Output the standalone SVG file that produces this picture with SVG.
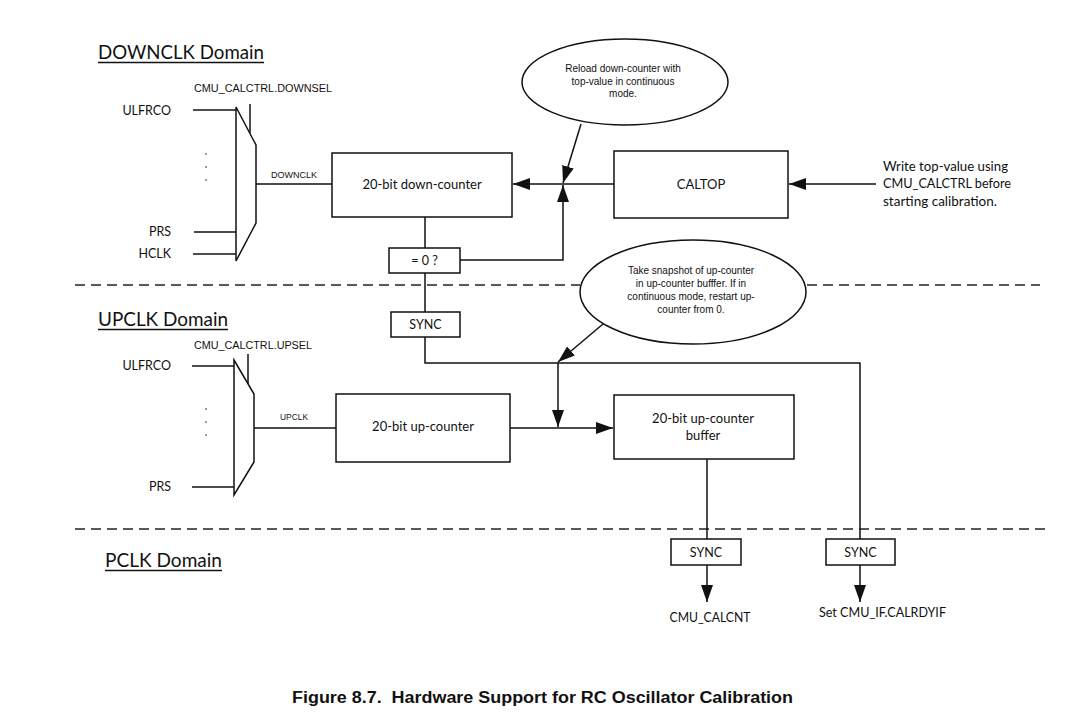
<svg xmlns="http://www.w3.org/2000/svg" width="1080" height="727" viewBox="0 0 1080 727">
<defs>
<style>
.ln{fill:none;stroke:#111;stroke-width:1.5}
.bx{fill:#fff;stroke:#111;stroke-width:1.5}
.dash{fill:none;stroke:#222;stroke-width:1.6;stroke-dasharray:10 6}
.c{font-family:Lato,"Open Sans","Noto Sans",sans-serif;fill:#111}
.a{font-family:"Liberation Sans",Arial,sans-serif;fill:#111}
.h{font-family:Lato,"Open Sans",sans-serif;font-size:19px;fill:#111}
.dot{fill:#5a6f8a}
.pre{white-space:pre}
</style>
<marker id="arr" markerUnits="userSpaceOnUse" markerWidth="18" markerHeight="12" refX="17" refY="6" orient="auto">
<path d="M0,0 L17,6 L0,12 z" fill="#111"/>
</marker>
</defs>
<rect width="1080" height="727" fill="#fff"/>

<g id="domain-lines">
<line class="dash" x1="75" y1="285" x2="580" y2="285"/>
<line class="dash" x1="807" y1="285" x2="1040" y2="285"/>
<line class="dash" x1="75" y1="529" x2="1045" y2="529"/>
</g>

<g id="headings">
<text class="h" x="98" y="59" textLength="166" lengthAdjust="spacingAndGlyphs">DOWNCLK Domain</text>
<line class="ln" x1="98" y1="62.5" x2="264" y2="62.5"/>
<text class="h" x="98" y="326" textLength="130" lengthAdjust="spacingAndGlyphs">UPCLK Domain</text>
<line class="ln" x1="98" y1="329.5" x2="228" y2="329.5"/>
<text class="h" x="105" y="567" textLength="117" lengthAdjust="spacingAndGlyphs">PCLK Domain</text>
<line class="ln" x1="105" y1="570.5" x2="222" y2="570.5"/>
</g>

<g id="connectors">
<line class="ln" x1="193" y1="110" x2="236" y2="110"/>
<line class="ln" x1="194" y1="232" x2="236" y2="232"/>
<line class="ln" x1="193" y1="254" x2="236" y2="254"/>
<line class="ln" x1="250" y1="104" x2="250" y2="133"/>
<line class="ln" x1="256" y1="184" x2="332" y2="184"/>
<line class="ln" x1="425" y1="217" x2="425" y2="248"/>
<polyline class="ln" points="460,260 563,260 563,185" marker-end="url(#arr)"/>
<line class="ln" x1="614" y1="184" x2="513" y2="184" marker-end="url(#arr)"/>
<line class="ln" x1="876" y1="184" x2="789" y2="184" marker-end="url(#arr)"/>
<line class="ln" x1="581" y1="124" x2="563" y2="183" marker-end="url(#arr)"/>
<line class="ln" x1="425" y1="273" x2="425" y2="312"/>
<polyline class="ln" points="425,337 425,363 860,363 860,539"/>
<line class="ln" x1="603" y1="324" x2="558" y2="362" marker-end="url(#arr)"/>
<line class="ln" x1="558" y1="363" x2="558" y2="427" marker-end="url(#arr)"/>
<line class="ln" x1="192" y1="366" x2="234" y2="366"/>
<line class="ln" x1="192" y1="487" x2="234" y2="487"/>
<line class="ln" x1="248" y1="354" x2="248" y2="384"/>
<line class="ln" x1="254" y1="428" x2="336" y2="428"/>
<line class="ln" x1="510" y1="428" x2="613" y2="428" marker-end="url(#arr)"/>
<line class="ln" x1="707" y1="459" x2="707" y2="539"/>
<line class="ln" x1="707" y1="565" x2="707" y2="602" marker-end="url(#arr)"/>
<line class="ln" x1="860" y1="565" x2="860" y2="602" marker-end="url(#arr)"/>
</g>

<g id="downsel-mux">
<polygon class="bx" points="236,107 256,145 256,223 236,261"/>
<text class="a" x="194" y="92" font-size="10" textLength="138" lengthAdjust="spacingAndGlyphs">CMU_CALCTRL.DOWNSEL</text>
<text class="c" x="171" y="115" font-size="12.5" text-anchor="end">ULFRCO</text>
<circle class="dot" cx="206" cy="154" r="0.9"/>
<circle class="dot" cx="206" cy="167" r="0.9"/>
<circle class="dot" cx="206" cy="180" r="0.9"/>
<text class="c" x="171" y="236" font-size="12.5" text-anchor="end">PRS</text>
<text class="c" x="171" y="258" font-size="12.5" text-anchor="end">HCLK</text>
<text class="a" x="271" y="178" font-size="8.5" textLength="46" lengthAdjust="spacingAndGlyphs">DOWNCLK</text>
</g>

<g id="down-counter">
<rect class="bx" x="332" y="153" width="180" height="64"/>
<text class="c" x="422" y="189" font-size="13" text-anchor="middle">20-bit down-counter</text>
</g>

<g id="zero-check">
<rect class="bx" x="389" y="248" width="71" height="25"/>
<text class="c" x="424.5" y="265" font-size="12.5" text-anchor="middle">= 0 ?</text>
</g>

<g id="caltop">
<rect class="bx" x="614" y="151" width="174" height="67"/>
<text class="c" x="701" y="189" font-size="13" text-anchor="middle">CALTOP</text>
</g>

<g id="write-note">
<text class="c" x="883" y="171" font-size="13" textLength="125" lengthAdjust="spacingAndGlyphs">Write top-value using</text>
<text class="c" x="883" y="188" font-size="13" textLength="128" lengthAdjust="spacingAndGlyphs">CMU_CALCTRL before</text>
<text class="c" x="883" y="206" font-size="13" textLength="114" lengthAdjust="spacingAndGlyphs">starting calibration.</text>
</g>

<g id="reload-note">
<ellipse class="bx" cx="625" cy="82" rx="103" ry="43"/>
<text class="a" x="623" y="72" font-size="10" text-anchor="middle">Reload down-counter with</text>
<text class="a" x="623" y="85" font-size="10" text-anchor="middle">top-value in continuous</text>
<text class="a" x="623" y="97" font-size="10" text-anchor="middle">mode.</text>
</g>

<g id="snapshot-note">
<ellipse class="bx" cx="693" cy="292" rx="113" ry="52"/>
<text class="a" x="691" y="274" font-size="10" text-anchor="middle">Take snapshot of up-counter</text>
<text class="a" x="691" y="287" font-size="10" text-anchor="middle">in up-counter bufffer. If in</text>
<text class="a" x="691" y="300" font-size="10" text-anchor="middle">continuous mode, restart up-</text>
<text class="a" x="691" y="313" font-size="10" text-anchor="middle">counter from 0.</text>
</g>

<g id="sync-down">
<rect class="bx" x="391" y="312" width="69" height="25"/>
<text class="c" x="425.5" y="329" font-size="12.5" text-anchor="middle">SYNC</text>
</g>

<g id="upsel-mux">
<polygon class="bx" points="234,360 254,394 254,462 234,495"/>
<text class="a" x="194" y="349" font-size="10" textLength="118" lengthAdjust="spacingAndGlyphs">CMU_CALCTRL.UPSEL</text>
<text class="c" x="171" y="370" font-size="12.5" text-anchor="end">ULFRCO</text>
<circle class="dot" cx="206" cy="409" r="0.9"/>
<circle class="dot" cx="206" cy="422" r="0.9"/>
<circle class="dot" cx="206" cy="435" r="0.9"/>
<text class="c" x="171" y="491" font-size="12.5" text-anchor="end">PRS</text>
<text class="a" x="280" y="420" font-size="8.5" textLength="28" lengthAdjust="spacingAndGlyphs">UPCLK</text>
</g>

<g id="up-counter">
<rect class="bx" x="336" y="394" width="174" height="68"/>
<text class="c" x="423" y="431" font-size="13" text-anchor="middle">20-bit up-counter</text>
</g>

<g id="up-buffer">
<rect class="bx" x="614" y="395" width="180" height="64"/>
<text class="c" x="703" y="423" font-size="13" text-anchor="middle">20-bit up-counter</text>
<text class="c" x="703" y="440" font-size="13" text-anchor="middle">buffer</text>
</g>

<g id="sync-calcnt">
<rect class="bx" x="671" y="539" width="70" height="26"/>
<text class="c" x="706" y="557" font-size="12.5" text-anchor="middle">SYNC</text>
<text class="c" x="710" y="622" font-size="12.5" text-anchor="middle" textLength="81" lengthAdjust="spacingAndGlyphs">CMU_CALCNT</text>
</g>

<g id="sync-rdy">
<rect class="bx" x="826" y="539" width="69" height="26"/>
<text class="c" x="860.5" y="557" font-size="12.5" text-anchor="middle">SYNC</text>
<text class="c" x="819" y="617" font-size="12.5" textLength="127" lengthAdjust="spacingAndGlyphs">Set CMU_IF.CALRDYIF</text>
</g>

<g id="caption">
<text class="a pre" x="292" y="703" font-size="16" font-weight="bold" textLength="501" lengthAdjust="spacingAndGlyphs" xml:space="preserve">Figure 8.7.  Hardware Support for RC Oscillator Calibration</text>
</g>
</svg>
